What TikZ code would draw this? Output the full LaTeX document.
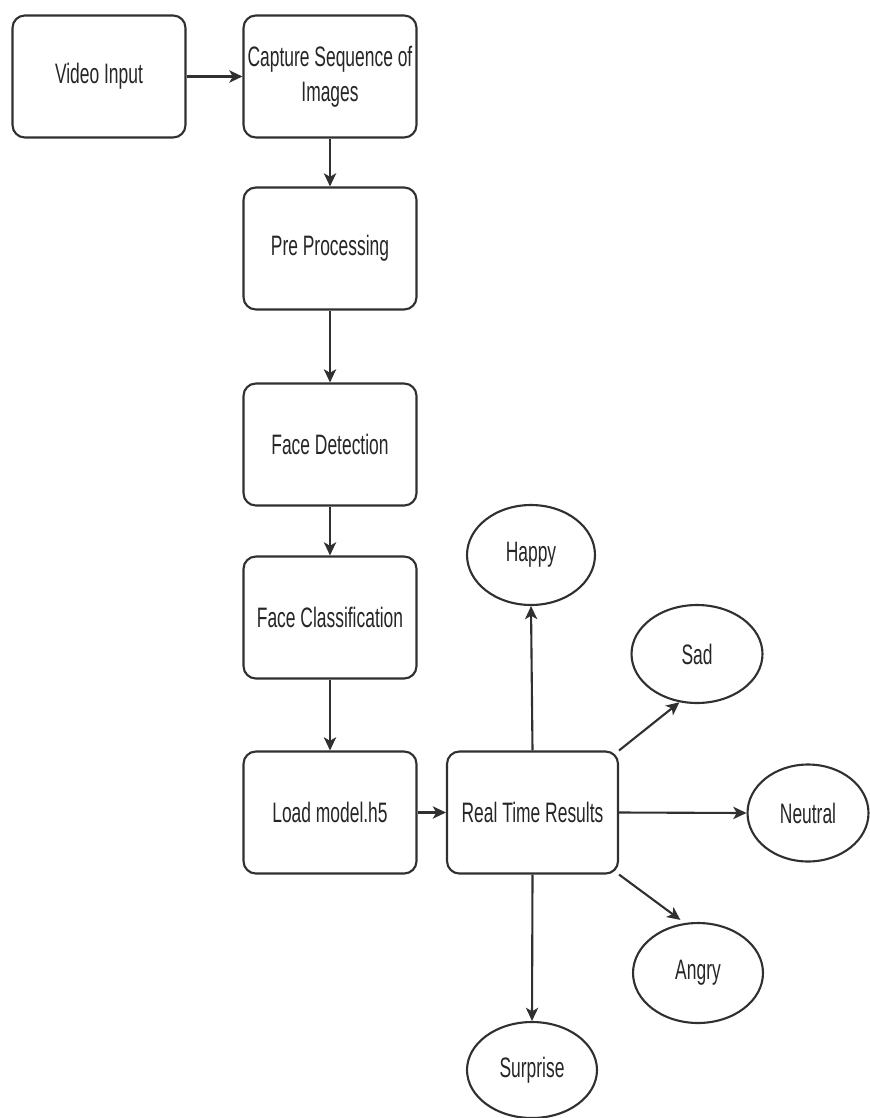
\documentclass[tikz,border=0pt]{standalone}
\usepackage{fontspec}
\setmainfont[FakeStretch=0.62]{Liberation Sans}
\usepackage{tikz}
\usetikzlibrary{arrows.meta, shapes.geometric}
\definecolor{EdgeGray}{HTML}{303030}
\definecolor{LabelInk}{HTML}{262626}
\tikzset{
    stagebox/.style={draw=EdgeGray, line width=1.2pt, rounded corners=7pt,
        minimum width=3.46cm, minimum height=2.44cm, inner sep=0pt,
        align=center, text=LabelInk, font=\fontsize{16}{20}\selectfont},
    moodoval/.style={ellipse, draw=EdgeGray, line width=1.2pt, inner sep=0pt,
        text=LabelInk, font=\fontsize{16}{20}\selectfont},
    flowarrow/.style={draw=EdgeGray, line width=1.2pt,
        -{Stealth[length=7.5pt, width=7pt, inset=2pt]}},
}

\begin{document}
\begin{tikzpicture}[x=0.02cm, y=-0.02cm]
\useasboundingbox (0,0) rectangle (869,1118);

% pipeline
\node[stagebox] (video) at (99,76.5) {Video Input};
\node[stagebox] (capture) at (330,76.5) {Capture Sequence of\\Images};
\node[stagebox] (preproc) at (330,248.5) {Pre Processing};
\node[stagebox] (detect) at (330,444.5) {Face Detection};
\node[stagebox] (classify) at (330,617.5) {Face Classification};
\node[stagebox] (loadmodel) at (330,812.5) {Load model.h5};
\node[stagebox, minimum width=3.42cm] (results) at (532.5,812.5) {Real Time Results};

% emotions
\node[moodoval, minimum width=2.56cm, minimum height=2.0cm] (happy) at (531,555) {Happy};
\node[moodoval, minimum width=2.62cm, minimum height=1.96cm] (sad) at (697,654) {Sad};
\node[moodoval, minimum width=2.42cm, minimum height=1.94cm] (neutral) at (808,813) {Neutral};
\node[moodoval, minimum width=2.60cm, minimum height=2.0cm] (angry) at (698,973) {Angry};
\node[moodoval, minimum width=2.60cm, minimum height=1.92cm] (surprise) at (532,1070) {Surprise};

\draw[flowarrow] (video) -- (capture);
\draw[flowarrow] (capture) -- (preproc);
\draw[flowarrow] (preproc) -- (detect);
\draw[flowarrow] (detect) -- (classify);
\draw[flowarrow] (classify) -- (loadmodel);
\draw[flowarrow] (loadmodel) -- (results);

\draw[flowarrow] (results.north) -- (happy.south);
\draw[flowarrow] (results.north east) -- (sad.250);
\draw[flowarrow] (results.east) -- (neutral.west);
\draw[flowarrow, shorten >=3pt] (results.south east) -- (angry.105);
\draw[flowarrow] (results.south) -- (surprise.north);
\end{tikzpicture}
\end{document}
